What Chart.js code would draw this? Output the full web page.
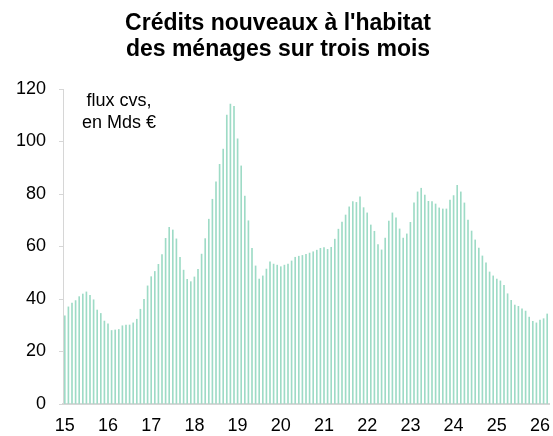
<!DOCTYPE html>
<html>
<head>
<meta charset="utf-8">
<script src="https://cdn.jsdelivr.net/npm/chart.js@4/dist/chart.umd.min.js"></script>
<style>
  html, body { margin: 0; padding: 0; background: #ffffff; }
  #wrap { width: 553px; height: 436px; position: relative; }
</style>
</head>
<body>
<div id="wrap"><canvas id="c" width="553" height="436"></canvas></div>
<script>
// ---- Data ----
const titleLines = ["Crédits nouveaux à l'habitat", "des ménages sur trois mois"];
const noteLines = ["flux cvs,", "en Mds €"];
const years = ["15","16","17","18","19","20","21","22","23","24","25","26"];
const months = ["01","02","03","04","05","06","07","08","09","10","11","12"];
const yTicks = [0, 20, 40, 60, 80, 100, 120];
// Monthly new housing loans to households over three months, Jan 2015 - Mar 2026 (bn €)
const flux = [
  33.6, 37.0, 38.4, 39.4, 40.9, 41.9, 42.7, 41.4, 39.7, 35.8, 34.5, 31.6,
  30.5, 28.0, 28.2, 28.4, 29.8, 30.1, 30.1, 30.9, 32.3, 36.1, 39.9, 45.0,
  48.5, 50.5, 53.2, 56.9, 63.1, 67.3, 66.3, 62.9, 55.9, 51.0, 47.5, 46.6,
  48.4, 51.3, 57.1, 63.0, 70.4, 78.0, 84.6, 91.3, 97.1, 110.1, 114.3, 113.4,
  101.0, 90.7, 79.2, 69.8, 59.3, 52.6, 47.6, 48.8, 51.4, 54.2, 53.3, 52.9,
  52.3, 52.9, 53.3, 54.5, 55.9, 56.3, 56.6, 57.0, 57.5, 58.0, 58.6, 59.3,
  59.6, 58.9, 59.7, 62.8, 66.6, 69.3, 72.0, 75.1, 77.1, 76.8, 78.9, 74.8,
  72.8, 68.2, 65.8, 60.7, 58.7, 63.2, 69.7, 72.8, 70.9, 66.7, 63.2, 64.8,
  69.2, 76.6, 80.8, 82.2, 79.6, 77.2, 77.1, 76.2, 74.7, 74.3, 74.3, 77.7,
  79.4, 83.3, 80.8, 76.6, 70.1, 65.9, 62.5, 59.4, 56.4, 53.8, 50.3, 48.8,
  47.6, 46.9, 45.2, 42.0, 39.5, 37.7, 37.2, 36.3, 35.4, 33.1, 31.5, 30.9,
  32.0, 32.5, 34.3
];
// Categories: one per month, labelled yy-mm
const categories = [];
for (const y of years) for (const m of months) {
  if (categories.length < flux.length) categories.push(y + "-" + m);
}

const FONT = "'Liberation Sans', Arial, sans-serif";

const textPlugin = {
  id: 'texts',
  afterDraw(chart) {
    const ctx = chart.ctx;
    ctx.save();
    ctx.fillStyle = '#000000';
    ctx.textAlign = 'center';
    ctx.textBaseline = 'middle';
    ctx.font = "bold 23px " + FONT;
    ctx.fillText(titleLines[0], 278, 24);
    ctx.fillText(titleLines[1], 278, 50);
    ctx.font = "18px " + FONT;
    ctx.fillText(noteLines[0], 119, 101);
    ctx.fillText(noteLines[1], 119, 123);
    ctx.restore();
  }
};

new Chart(document.getElementById('c'), {
  type: 'bar',
  data: {
    labels: categories,
    datasets: [{
      data: flux,
      backgroundColor: '#9edbc6',
      barThickness: 1,
      borderWidth: 0
    }]
  },
  options: {
    responsive: false,
    devicePixelRatio: 1,
    animation: false,
    layout: { padding: { top: 89, right: 4, left: 0, bottom: 0 } },
    plugins: { legend: { display: false }, tooltip: { enabled: false }, title: { display: false } },
    scales: {
      x: {
        type: 'category',
        offset: true,
        grid: { display: false },
        border: { display: true, color: '#d6d6d6', width: 2 },
        ticks: {
          autoSkip: false,
          maxRotation: 0,
          minRotation: 0,
          padding: 3,
          color: '#000000',
          font: { family: FONT, size: 18 },
          callback: function(val, idx) {
            return idx % 12 === 0 ? years[idx / 12] : '';
          }
        },
        afterFit: function(scale) { scale.height = 32; }
      },
      y: {
        min: 0,
        max: 120,
        afterBuildTicks: function(scale) { scale.ticks = yTicks.map(v => ({ value: v })); },
        grid: { display: true, drawOnChartArea: false, drawTicks: true, tickLength: 4, color: '#d6d6d6' },
        border: { display: true, color: '#d6d6d6', width: 1 },
        ticks: {
          padding: 13,
          color: '#000000',
          font: { family: FONT, size: 18 }
        },
        afterFit: function(scale) { scale.width = 63; }
      }
    }
  },
  plugins: [textPlugin]
});
</script>
</body>
</html>
